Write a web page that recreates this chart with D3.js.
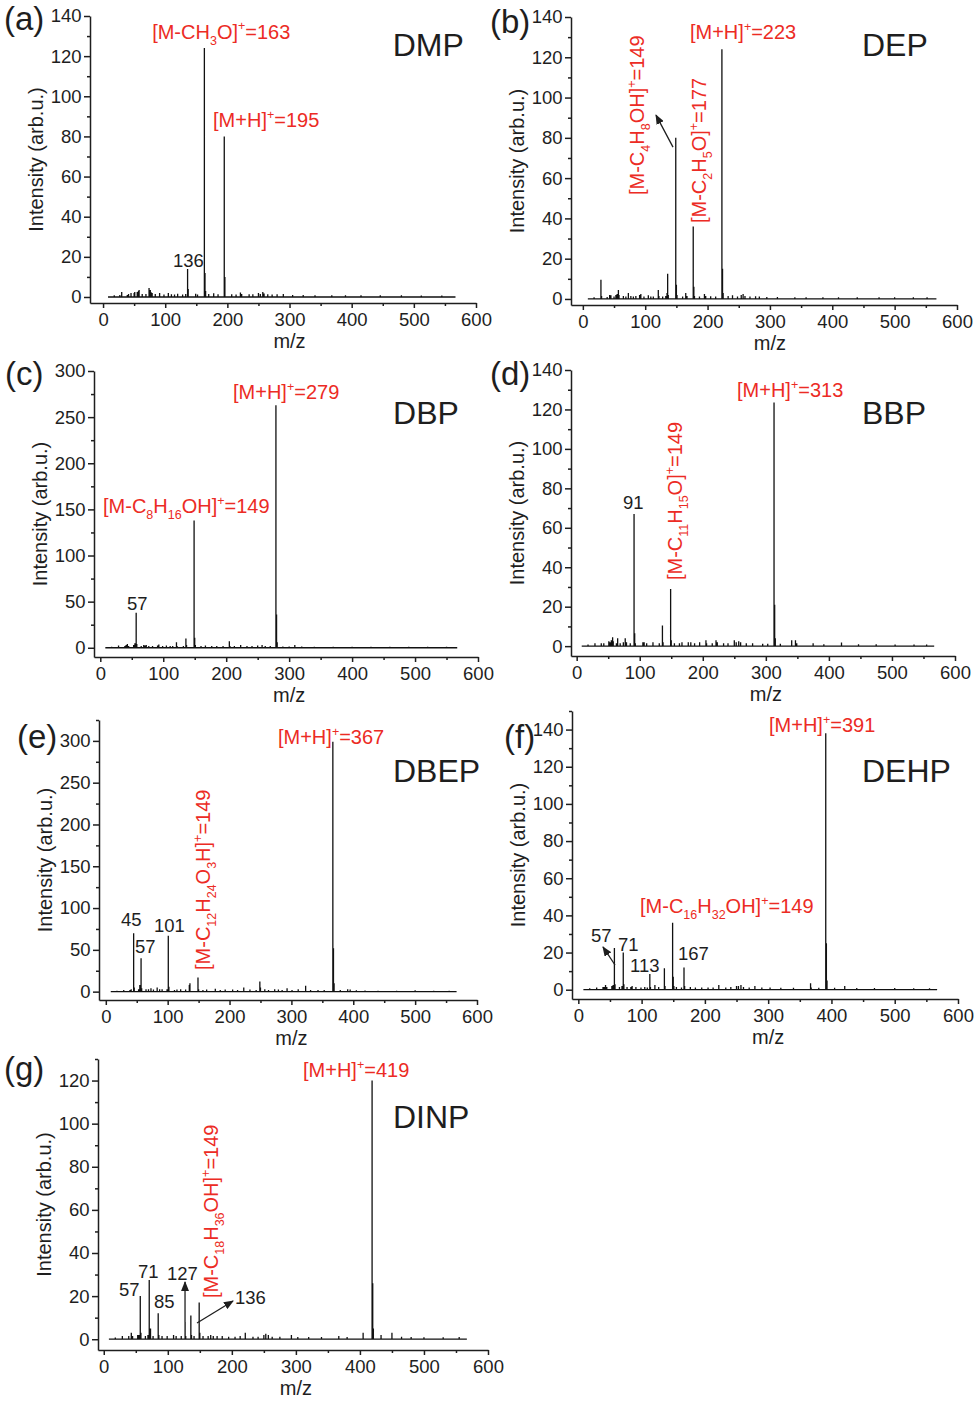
<!DOCTYPE html>
<html>
<head>
<meta charset="utf-8">
<script src="https://cdnjs.cloudflare.com/ajax/libs/d3/7.8.5/d3.min.js"></script>
<style>
  body { margin: 0; background: #fff; }
  svg text { font-family: "Liberation Sans", Arial, Helvetica, sans-serif; }
</style>
</head>
<body>
<svg id="chart" width="979" height="1401"></svg>
<script>
// peak lists: [m/z, intensity]
const dmpPeaks = [[18,0.8],[27,1],[30,2.5],[39,1],[41,1.5],[45,2],[50,2],[51,2.5],[55,2.5],[57,3],[58,3.5],[63,1.5],[69,1.5],[74,4.5],[76,3.5],[77,2.5],[79,2],[84,1.5],[91,2],[98,1.2],[105,2],[110,1.3],[115,1.2],[120,1.6],[128,1.2],[133,1.5],[136,14],[137,4],[149,1.6],[152,1.2],[163,124],[164,12],[165,3],[170,1.5],[178,1.8],[185,1.3],[195,80],[196,10],[207,1.3],[214,1.2],[221,2.2],[223,1.5],[235,1.3],[241,1.4],[250,2],[253,1.5],[257,2.5],[259,1.7],[265,1.3],[272,1.2],[280,1.4],[290,1.5],[305,1],[322,1],[341,0.9],[368,0.9],[390,0.8],[415,0.8],[446,0.8],[480,0.8],[512,0.7],[545,0.7]]
const depPeaks = [[18,0.8],[29,9.5],[30,1.5],[39,1],[43,2],[45,1.8],[50,1.2],[53,2],[55,2.5],[57,4.5],[58,2],[65,1.5],[69,1.2],[73,3],[77,1.5],[81,1.2],[85,1.5],[91,2],[93,2.5],[98,1.2],[105,1.8],[109,1.2],[113,1.2],[121,4.5],[122,1.5],[128,1.2],[133,1.5],[135,3],[136,12.5],[137,2],[149,80],[150,7],[151,2],[160,1.2],[165,3],[167,1.5],[177,36],[178,6],[179,1.5],[187,1.2],[195,2.5],[197,1.5],[205,1.4],[213,1.2],[223,124],[224,15],[225,3],[233,1.5],[240,1.8],[248,1.2],[254,2],[257,2.5],[260,1.5],[268,1.2],[277,1.3],[283,1.2],[295,1],[312,1],[340,0.9],[358,0.9],[385,0.8],[410,0.8],[440,0.8],[475,0.9],[500,0.8],[530,0.8],[552,0.8]]
const dbpPeaks = [[18,1],[29,2.5],[39,2],[41,3],[43,4],[45,2],[53,3],[55,5],[57,38],[58,4],[65,2],[69,3],[71,2.5],[73,3],[77,2],[83,2],[91,2.5],[93,3.5],[99,2],[105,2.5],[111,2],[115,2],[121,6],[122,2],[132,2],[136,10],[137,3],[149,138],[150,11],[151,3],[160,2],[167,2.5],[177,2],[185,2],[195,2],[205,7],[206,2],[213,2],[223,3],[233,2],[241,2],[250,2.5],[257,3],[262,2],[270,2],[279,263],[280,36],[281,6],[290,1.5],[300,1.5],[309,3],[320,1.5],[340,1.2],[370,1.2],[400,1],[430,1],[460,1],[490,1],[520,1],[550,1]]
const bbpPeaks = [[18,0.8],[29,1.5],[39,1.5],[43,1.5],[51,2.5],[53,2],[55,3],[57,4.5],[58,2.5],[63,1.5],[65,4],[69,1.5],[74,2],[77,4],[79,2],[85,1.5],[91,67],[92,6.5],[93,1.5],[105,2],[107,2],[111,1.5],[121,2],[131,1.5],[136,10.5],[137,2],[149,29],[150,3],[155,1.5],[163,1.5],[167,2],[177,2],[181,2],[187,1.5],[195,2],[205,3],[206,1.5],[215,1.5],[221,3],[223,2],[233,1.5],[240,1.5],[250,3],[253,2],[257,2.5],[260,2],[269,1.5],[279,1.5],[295,1.2],[303,1.2],[313,123.5],[314,21],[315,4],[323,1.2],[341,3],[347,3],[349,1.5],[375,1.5],[392,1],[420,1.8],[447,1],[475,0.9],[505,0.8],[535,0.8],[555,0.8]]
const dbepPeaks = [[18,1],[29,2],[39,2],[41,3],[45,70],[46,5],[53,3],[55,8],[56,6],[57,40],[58,4],[65,3],[69,3],[73,4],[77,2.5],[83,5],[87,3],[91,3],[99,3],[101,67],[102,6],[111,2],[115,2.5],[121,3],[129,2.5],[135,8],[136,10],[149,17],[150,3],[157,2],[163,2.5],[177,3.5],[185,2],[193,2.5],[205,2.5],[213,2],[223,5],[233,2.5],[243,2],[249,12],[250,5],[257,3],[263,2],[273,3],[279,2.5],[285,2],[293,4],[301,2],[311,3],[323,7],[331,2],[343,2],[353,2],[367,299],[368,52],[369,10],[379,2],[391,3],[395,2.5],[405,1.8],[419,1.5],[440,1.2],[470,1.2],[500,1.8],[530,1.2],[555,1.2]]
const dehpPeaks = [[18,0.8],[29,1.2],[39,1.5],[41,1.5],[43,2.5],[45,1.5],[53,2],[55,2.5],[57,22.5],[58,3],[65,1.5],[69,2],[71,20],[72,3],[77,1.5],[83,1.5],[85,2],[91,1.5],[99,1.2],[105,1.5],[109,1.2],[113,8.5],[114,1.5],[121,2.5],[127,1.5],[136,11.5],[137,2],[149,36],[150,7],[151,2],[155,1.5],[163,1.2],[167,12],[168,2],[177,1.5],[185,1.2],[195,1.2],[205,1.2],[213,1.2],[222,2.5],[233,1.2],[241,1.5],[250,2],[253,2],[257,2.5],[261,1.5],[270,1.2],[279,2],[290,1.2],[303,1.2],[320,1],[340,1],[367,3.5],[368,1.2],[380,1],[391,138],[392,25],[393,5],[405,1],[421,2],[440,0.9],[468,0.9],[500,0.9],[530,0.8],[555,0.8]]
const dinpPeaks = [[18,0.8],[29,1.5],[39,1.5],[43,3],[45,1.5],[53,2],[55,2],[57,20],[58,3],[65,1.5],[69,2],[71,27.5],[72,3],[73,5],[77,1.5],[85,12],[86,2],[91,1.5],[99,1.5],[109,2],[113,1.5],[121,1.5],[127,8],[128,1.5],[136,11],[137,2],[141,1.5],[149,17],[150,3],[155,1.5],[163,1.5],[167,2],[171,1.5],[177,1.5],[185,1.5],[195,1.2],[205,1.2],[213,1.5],[221,3],[233,1.2],[241,1.2],[250,2],[253,2.5],[257,2],[263,1.2],[275,1.2],[293,2],[303,1],[320,1],[340,1],[367,1.5],[380,1],[405,3],[419,120],[420,26],[421,5],[433,2],[450,3],[465,1.2],[480,1],[500,0.9],[530,0.9],[555,1]]

const mzRange = [8, 567]   // recorded m/z window
const mzTicks = [0, 100, 200, 300, 400, 500, 600]
const intTicks140 = [0, 20, 40, 60, 80, 100, 120, 140]
const intTicks120 = [0, 20, 40, 60, 80, 100, 120]
const intTicks300 = [0, 50, 100, 150, 200, 250, 300]

const red = '#ec2b24', ink = '#1e1e1e'

// layout of each panel, labels are placed in data units (m/z, intensity)
const panels = [
  { letter: '(a)', letterAt: [4, 30], name: 'DMP', nameAt: [466, 120], peaks: dmpPeaks,
    xr: [90, 476], xMin: -21, yr: [303, 16], yDom: [-3, 140], yTicks: intTicks140, yMinor: 10,
    labels: [
      { t: '[M-CH_3O]^+=163', mz: 79, v: 128.6, red: true },
      { t: '[M+H]^+=195', mz: 177, v: 84.7, red: true },
      { t: '136', mz: 112.5, v: 14.9 }
    ], arrows: [] },
  { letter: '(b)', letterAt: [490, 33], name: 'DEP', nameAt: [447.6, 120.6], peaks: depPeaks,
    xr: [571, 957], xMin: -19, yr: [305, 17], yDom: [-3, 140], yTicks: intTicks140, yMinor: 10,
    labels: [
      { t: '[M+H]^+=223', mz: 171.8, v: 129.1, red: true },
      { t: '[M-C_4H_8OH]^+=149', mz: 98, v: 51.6, red: true, rot: true },
      { t: '[M-C_2H_5O]^+=177', mz: 197.5, v: 37.7, red: true, rot: true }
    ], arrows: [ { from: [144.6, 75.4], to: [117.3, 91.3] } ] },
  { letter: '(c)', letterAt: [5, 385], name: 'DBP', nameAt: [465, 242.5], peaks: dbpPeaks,
    xr: [94, 478], xMin: -10, yr: [657, 371], yDom: [-10, 300], yTicks: intTicks300, yMinor: 25,
    labels: [
      { t: '[M+H]^+=279', mz: 210.8, v: 269.6, red: true },
      { t: '[M-C_8H_16OH]^+=149', mz: 4.3, v: 146.1, red: true },
      { t: '57', mz: 42.4, v: 40.9 }
    ], arrows: [] },
  { letter: '(d)', letterAt: [490, 385], name: 'BBP', nameAt: [452.5, 112.6], peaks: bbpPeaks,
    xr: [571, 955], xMin: -9, yr: [656, 370], yDom: [-5, 140], yTicks: intTicks140, yMinor: 10,
    labels: [
      { t: '[M+H]^+=313', mz: 254.3, v: 126.3, red: true },
      { t: '[M-C_11H_15O]^+=149', mz: 167, v: 33.5, red: true, rot: true },
      { t: '91', mz: 73.5, v: 69.5 }
    ], arrows: [] },
  { letter: '(e)', letterAt: [17, 748], name: 'DBEP', nameAt: [464.2, 250.8], peaks: dbepPeaks,
    xr: [99, 477], xMin: -11, yr: [1000, 720], yDom: [-10, 325], yTicks: intTicks300, yMinor: 25,
    labels: [
      { t: '[M+H]^+=367', mz: 278.3, v: 296.3, red: true },
      { t: '[M-C_12H_24O_3H]^+=149', mz: 168.4, v: 25.9, red: true, rot: true },
      { t: '45', mz: 24.6, v: 78.5 },
      { t: '57', mz: 47.2, v: 46.2 },
      { t: '101', mz: 77.9, v: 71.4 }
    ], arrows: [] },
  { letter: '(f)', letterAt: [504, 748], name: 'DEHP', nameAt: [448.3, 111.8], peaks: dehpPeaks,
    xr: [572, 958], xMin: -10, yr: [999, 711], yDom: [-5, 150], yTicks: intTicks140, yMinor: 10,
    labels: [
      { t: '[M+H]^+=391', mz: 301.3, v: 138.7, red: true },
      { t: '[M-C_16H_32OH]^+=149', mz: 97.5, v: 41.3, red: true },
      { t: '57', mz: 20, v: 25.7 },
      { t: '71', mz: 62.7, v: 20.8 },
      { t: '113', mz: 81.7, v: 9.5 },
      { t: '167', mz: 157.5, v: 16 }
    ], arrows: [ { from: [58, 13.3], to: [39, 23] } ] },
  { letter: '(g)', letterAt: [4, 1080], name: 'DINP', nameAt: [451.6, 98], peaks: dinpPeaks,
    xr: [98, 488], xMin: -9, yr: [1350, 1059], yDom: [-5, 130], yTicks: intTicks120, yMinor: 10,
    labels: [
      { t: '[M+H]^+=419', mz: 311.1, v: 121.6, red: true },
      { t: '[M-C_18H_36OH]^+=149', mz: 178.4, v: 19.1, red: true, rot: true },
      { t: '57', mz: 23.8, v: 20 },
      { t: '71', mz: 53.5, v: 28.4 },
      { t: '85', mz: 78.4, v: 14.5 },
      { t: '127', mz: 98.7, v: 27.5 },
      { t: '136', mz: 204.9, v: 16.3 }
    ], arrows: [ { from: [126.9, 8], to: [126.9, 26.5] }, { from: [145.6, 7.5], to: [201.8, 17.7] } ] }
]

const svg = d3.select('#chart')

svg.append('defs').append('marker')
  .attr('id', 'head')
  .attr('markerUnits', 'userSpaceOnUse')
  .attr('markerWidth', 10).attr('markerHeight', 8)
  .attr('refX', 9).attr('refY', 4)
  .attr('orient', 'auto')
  .append('path')
  .attr('d', 'M0,0 L10,4 L0,8 Z')
  .attr('fill', ink)

// text with _sub and ^sup pieces
function richText(sel, str, size, small) {
  const parts = str.split(/(_\d+|\^\+)/).filter(s => s.length)
  let shift = 0
  parts.forEach(p => {
    let target = 0, fs = size, txt = p
    if (p[0] === '_') { target = size * 0.3; fs = small; txt = p.slice(1) }
    else if (p[0] === '^') { target = -size * 0.42; fs = small; txt = p.slice(1) }
    sel.append('tspan').attr('dy', target - shift).attr('font-size', fs).text(txt)
    shift = target
  })
}

panels.forEach(p => {
  const x = d3.scaleLinear().domain([p.xMin, 600]).range(p.xr)
  const y = d3.scaleLinear().domain(p.yDom).range(p.yr)
  const g = svg.append('g')

  // stick spectrum along the baseline
  const pts = [[mzRange[0], 0]]
  p.peaks.slice().sort((a, b) => a[0] - b[0]).forEach(([m, v]) => {
    pts.push([m, 0], [m, v], [m, 0])
  })
  pts.push([mzRange[1], 0])
  g.append('path')
    .datum(pts)
    .attr('d', d3.line().x(d => x(d[0])).y(d => y(d[1])))
    .attr('fill', 'none')
    .attr('stroke', '#111')
    .attr('stroke-width', 1.3)

  // axes
  const yMinorTicks = d3.range(0, p.yDom[1] + 0.001, p.yMinor).filter(v => !p.yTicks.includes(v))
  const xMinorTicks = d3.range(50, 600, 100)

  const yAx = g.append('g').attr('transform', `translate(${p.xr[0]},0)`)
    .call(d3.axisLeft(y).tickValues(p.yTicks).tickSize(6).tickSizeOuter(0).tickPadding(2.5))
  const yMin = g.append('g').attr('transform', `translate(${p.xr[0]},0)`)
    .call(d3.axisLeft(y).tickValues(yMinorTicks).tickSize(3).tickSizeOuter(0).tickFormat(''))
  const xAx = g.append('g').attr('transform', `translate(0,${p.yr[0]})`)
    .call(d3.axisBottom(x).tickValues(mzTicks).tickSize(5).tickSizeOuter(0).tickPadding(5))
  const xMin = g.append('g').attr('transform', `translate(0,${p.yr[0]})`)
    .call(d3.axisBottom(x).tickValues(xMinorTicks).tickSize(3).tickSizeOuter(0).tickFormat(''))
  yMin.select('.domain').remove()
  xMin.select('.domain').remove()
  ;[yAx, yMin, xAx, xMin].forEach(a => {
    a.selectAll('path, line').attr('stroke', ink).attr('stroke-width', 1.5)
    a.selectAll('text').attr('font-size', 18.5).attr('fill', ink)
      .style('font-family', '"Liberation Sans", Arial, sans-serif')
  })

  // axis titles
  g.append('text')
    .attr('transform', `translate(${p.xr[0] - 47},${(p.yr[0] + p.yr[1]) / 2}) rotate(-90)`)
    .attr('text-anchor', 'middle')
    .attr('font-size', 20).attr('fill', ink)
    .text('Intensity (arb.u.)')
  g.append('text')
    .attr('x', x(300)).attr('y', p.yr[0] + 45)
    .attr('text-anchor', 'middle')
    .attr('font-size', 20).attr('fill', ink)
    .text('m/z')

  // panel letter and compound name
  g.append('text')
    .attr('x', p.letterAt[0]).attr('y', p.letterAt[1])
    .attr('font-size', 33).attr('fill', ink)
    .text(p.letter)
  g.append('text')
    .attr('x', x(p.nameAt[0])).attr('y', y(p.nameAt[1]))
    .attr('font-size', 32).attr('fill', ink)
    .text(p.name)

  // peak labels
  p.labels.forEach(l => {
    const t = g.append('text')
      .attr('fill', l.red ? red : ink)
      .attr('font-size', l.red ? 20 : 18.5)
    if (l.rot) t.attr('transform', `translate(${x(l.mz)},${y(l.v)}) rotate(-90)`)
    else t.attr('x', x(l.mz)).attr('y', y(l.v))
    if (l.red) richText(t, l.t, 20, 12.5)
    else t.text(l.t)
  })

  p.arrows.forEach(a => {
    g.append('line')
      .attr('x1', x(a.from[0])).attr('y1', y(a.from[1]))
      .attr('x2', x(a.to[0])).attr('y2', y(a.to[1]))
      .attr('stroke', ink).attr('stroke-width', 1.3)
      .attr('marker-end', 'url(#head)')
  })
})
</script>
</body>
</html>
